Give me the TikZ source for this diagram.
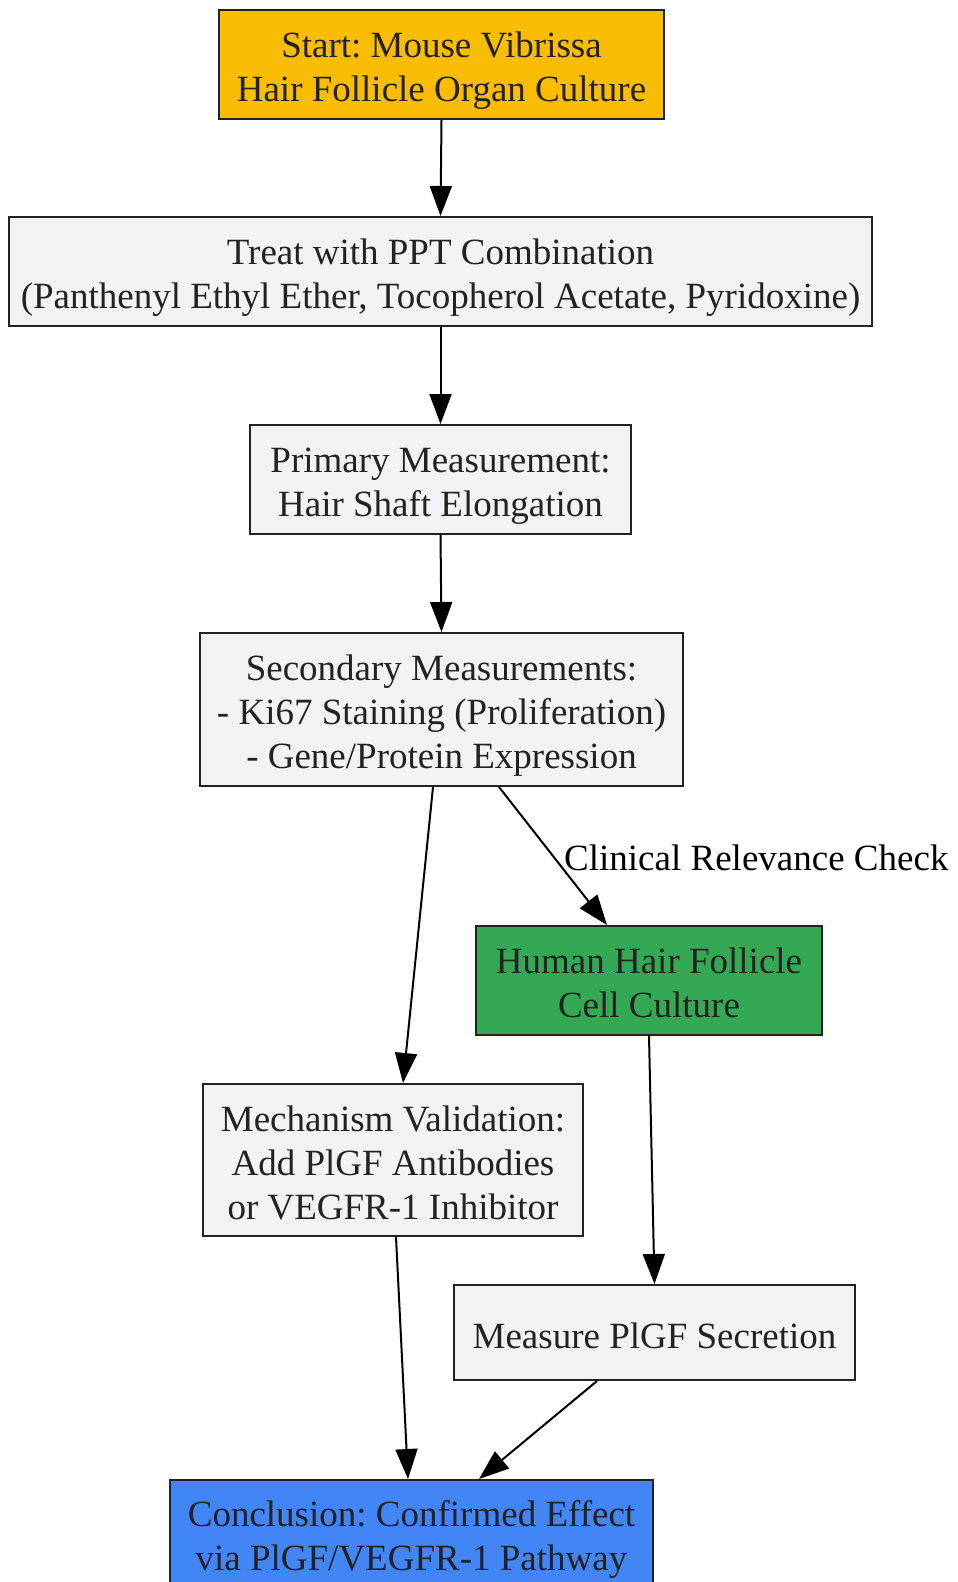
\documentclass[tikz,border=0pt]{standalone}
\usepackage{fontspec}
\setmainfont{Liberation Serif}
\usetikzlibrary{arrows.meta}
\definecolor{txt}{HTML}{222222}
\definecolor{bord}{HTML}{222222}
\definecolor{grayfill}{HTML}{F1F3F4}
\definecolor{yellowfill}{HTML}{FBBC04}
\definecolor{greenfill}{HTML}{34A853}
\definecolor{bluefill}{HTML}{4285F4}
\tikzset{
  box/.style={draw=bord, line width=2pt, fill=grayfill, text=txt, align=center,
    inner sep=0pt, font=\fontsize{37}{44}\selectfont\frenchspacing, text depth=8pt},
  oneline/.style={text height=39.5pt},
  twoline/.style={text height=81pt},
  threeline/.style={text height=126.5pt},
  conn/.style={line width=2pt, -{Triangle[length=30pt,width=22pt]}},
  lbl/.style={text=black, inner sep=0pt, font=\fontsize{37}{44}\selectfont}
}
\begin{document}
\begin{tikzpicture}[x=1pt,y=-1pt]
\useasboundingbox (0,0) rectangle (958,1582);
\node[box, twoline, fill=yellowfill, minimum width=445pt, minimum height=109pt] (start) at (441.5,64.5)
  {Start: Mouse Vibrissa\\Hair Follicle Organ Culture};
\node[box, twoline, minimum width=863pt, minimum height=109pt] (treat) at (440.5,271.5)
  {Treat with PPT Combination\\(Panthenyl Ethyl Ether, Tocopherol Acetate, Pyridoxine)};
\node[box, twoline, minimum width=381pt, minimum height=109pt] (primary) at (440.5,479.5)
  {Primary Measurement:\\Hair Shaft Elongation};
\node[box, threeline, minimum width=483pt, minimum height=153pt] (secondary) at (441.5,709.5)
  {Secondary Measurements:\\- Ki67 Staining (Proliferation)\\- Gene/Protein Expression};
\node[box, twoline, fill=greenfill, minimum width=346pt, minimum height=109pt] (human) at (649,980.5)
  {Human Hair Follicle\\Cell Culture};
\node[box, threeline, minimum width=380pt, minimum height=152pt] (mech) at (393,1160)
  {Mechanism Validation:\\Add PlGF Antibodies\\or VEGFR-1 Inhibitor};
\node[box, oneline, minimum width=401pt, minimum height=95pt] (measure) at (654.5,1332.5)
  {Measure PlGF Secretion};
\node[box, twoline, fill=bluefill, minimum width=483pt, minimum height=108pt] (concl) at (411.5,1534)
  {Conclusion: Confirmed Effect\\via PlGF/VEGFR-1 Pathway};
\node[lbl, anchor=west] (clin) at (564,858) {Clinical Relevance Check};

\draw[conn] (start.south) -- (treat.north);
\draw[conn] (treat.south) -- (primary.north);
\draw[conn] (primary.south) -- (secondary.north);
\draw[conn] ([xshift=-8.5pt]secondary.south) -- ([xshift=10pt]mech.north);
\draw[conn] ([xshift=57.5pt]secondary.south) -- ([xshift=-42pt]human.north);
\draw[conn] (human.south) -- (measure.north);
\draw[conn] ([xshift=3pt]mech.south) -- ([xshift=-3.5pt]concl.north);
\draw[conn] ([xshift=-57.5pt]measure.south) -- ([xshift=67.5pt]concl.north);
\end{tikzpicture}
\end{document}
